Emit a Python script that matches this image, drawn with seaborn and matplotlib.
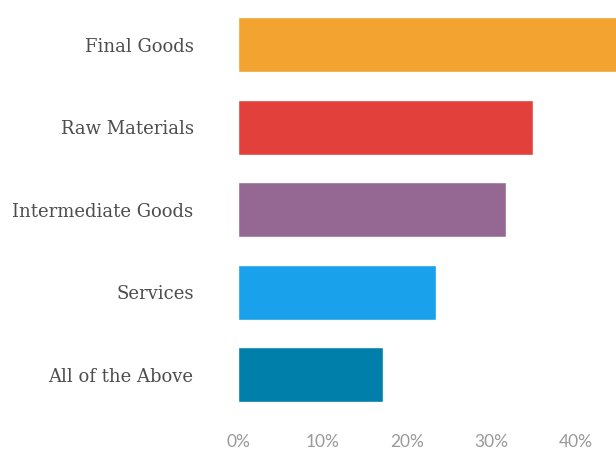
import matplotlib
matplotlib.use("Agg")
import matplotlib.pyplot as plt
import seaborn as sns
import pandas as pd
from matplotlib.ticker import FuncFormatter

# Share of respondents by type of good traded
categories = ["Final Goods", "Raw Materials", "Intermediate Goods", "Services", "All of the Above"]
shares = [45.0, 35.0, 31.8, 23.5, 17.2]
bar_colors = ["#F2A330", "#E2413B", "#956893", "#1AA1EB", "#007FAA"]
x_ticks = [0, 10, 20, 30, 40]

df = pd.DataFrame({"category": categories, "share": shares})

sns.set_theme(style="white")
fig = plt.figure(figsize=(6.16, 4.51), dpi=100)
ax = fig.add_axes([238 / 616, 31 / 451, 1 - 238 / 616, 1 - 31 / 451])

sns.barplot(data=df, x="share", y="category", hue="category", palette=bar_colors,
            order=categories, hue_order=categories, width=0.667, legend=False,
            saturation=1, ax=ax)

ax.set_xlim(0, 44.8)
ax.set_ylim(4.55, -0.54)
ax.set_xticks(x_ticks)
ax.xaxis.set_major_formatter(FuncFormatter(lambda v, p: f"{v:.0f}%"))
ax.set_xlabel("")
ax.set_ylabel("")
for s in ax.spines.values():
    s.set_visible(False)
ax.tick_params(axis="y", length=0, pad=32, labelsize=13, labelcolor="#4d4d4d")
ax.tick_params(axis="x", length=0, pad=10, labelsize=12.5, labelcolor="#999999")
for lbl in ax.get_yticklabels():
    lbl.set_fontfamily("DejaVu Serif")
for lbl in ax.get_xticklabels():
    lbl.set_fontfamily("Lato")

fig.savefig("out.png", dpi=100)
